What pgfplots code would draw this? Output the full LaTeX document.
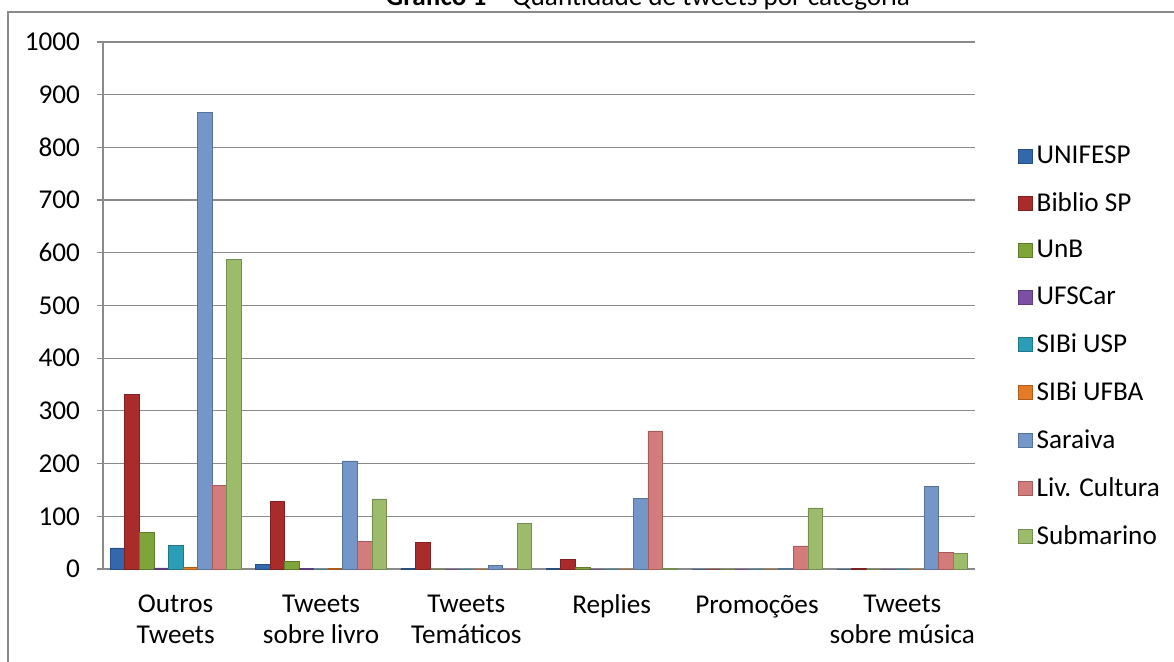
\documentclass[border=0pt]{standalone}
\usepackage{fontspec}
\setmainfont{Carlito}
\usepackage{pgfplots}
\pgfplotsset{compat=1.18}
\usepackage{pgfplotstable}

\definecolor{cA}{HTML}{3468AE}
\definecolor{cB}{HTML}{AA2B2B}
\definecolor{cC}{HTML}{7EA53A}
\definecolor{cD}{HTML}{7B4FA3}
\definecolor{cE}{HTML}{2C9DB6}
\definecolor{cF}{HTML}{E57B25}
\definecolor{cG}{HTML}{7496C9}
\definecolor{cH}{HTML}{D47C7C}
\definecolor{cI}{HTML}{9CBC6B}
\definecolor{gridc}{HTML}{8A8A8A}

\pgfplotstableread{
x a b c d e f g h i
0 40 332 70 2 45 3 867 159 588
1 9 129 15 1 0 1 205 52 133
2 1 51 0 0 0 0 7 0 87
3 1 18 3 0 0 0 134 262 1
4 0 0 0 0 0 0 1 44 116
5 0 1 0 0 0 0 156 32 30
}\data

\begin{document}
\begin{tikzpicture}
\useasboundingbox (0,0) rectangle (587pt,-331pt);
\fill[white] (0,0) rectangle (587pt,-331pt);
\draw[gridc, line width=1pt] (4pt,-340pt) -- (4pt,-6pt) -- (600pt,-6pt);
\node[anchor=base, font=\fontsize{13.6}{15}\selectfont, inner sep=0pt] at (324pt,-3pt) {\textbf{Gráfico 1} – Quantidade de tweets por categoria};
\begin{axis}[
  at={(51.5pt,-284.5pt)}, anchor=south west,
  scale only axis, width=436pt, height=263.5pt,
  xmin=-0.5, xmax=5.5, ymin=0, ymax=1000,
  ybar, bar width=0.1,
  axis x line*=bottom, axis y line*=left,
  axis line style={gridc, line width=0.6pt, -},
  ytick={0,100,...,1000},
  xtick={0,1,2,3,4,5},
  xticklabels={{Outros\\Tweets},{Tweets\\sobre livro},{Tweets\\Temáticos},{Replies},{Promoções},{Tweets\\sobre música}},
  x tick style={draw=none},
  y tick style={gridc, line width=0.6pt},
  tick align=outside, major tick length=3pt,
  ymajorgrids, grid style={gridc, line width=0.6pt},
  /pgf/number format/assume math mode=true,
  /pgf/number format/1000 sep={},
  yticklabel style={font=\fontsize{13.6}{15}\selectfont, xshift=-5pt},
  xticklabel style={font=\fontsize{13.6}{15.5}\selectfont, align=center, yshift=-6.5pt},
  legend style={at={(1.049,0.812)}, anchor=north west, draw=none, fill=none,
    font=\fontsize{13.6}{15}\selectfont, row sep=9.1pt, inner sep=0pt, cells={anchor=west}},
  legend image code/.code={\fill[#1] (0pt,-3.5pt) rectangle (7pt,3.5pt);},
  clip=false,
]
\addplot[fill=cA, draw=cA!75!black, line width=0.3pt, bar shift=-0.4] table[x=x,y=a] {\data};
\addplot[fill=cB, draw=cB!75!black, line width=0.3pt, bar shift=-0.3] table[x=x,y=b] {\data};
\addplot[fill=cC, draw=cC!75!black, line width=0.3pt, bar shift=-0.2] table[x=x,y=c] {\data};
\addplot[fill=cD, draw=cD!75!black, line width=0.3pt, bar shift=-0.1] table[x=x,y=d] {\data};
\addplot[fill=cE, draw=cE!75!black, line width=0.3pt, bar shift=0] table[x=x,y=e] {\data};
\addplot[fill=cF, draw=cF!75!black, line width=0.3pt, bar shift=0.1] table[x=x,y=f] {\data};
\addplot[fill=cG, draw=cG!75!black, line width=0.3pt, bar shift=0.2] table[x=x,y=g] {\data};
\addplot[fill=cH, draw=cH!75!black, line width=0.3pt, bar shift=0.3] table[x=x,y=h] {\data};
\addplot[fill=cI, draw=cI!75!black, line width=0.3pt, bar shift=0.4] table[x=x,y=i] {\data};
\legend{UNIFESP, Biblio SP, UnB, UFSCar, SIBi USP, SIBi UFBA, Saraiva, Liv. Cultura, Submarino}
\end{axis}
\end{tikzpicture}
\end{document}
